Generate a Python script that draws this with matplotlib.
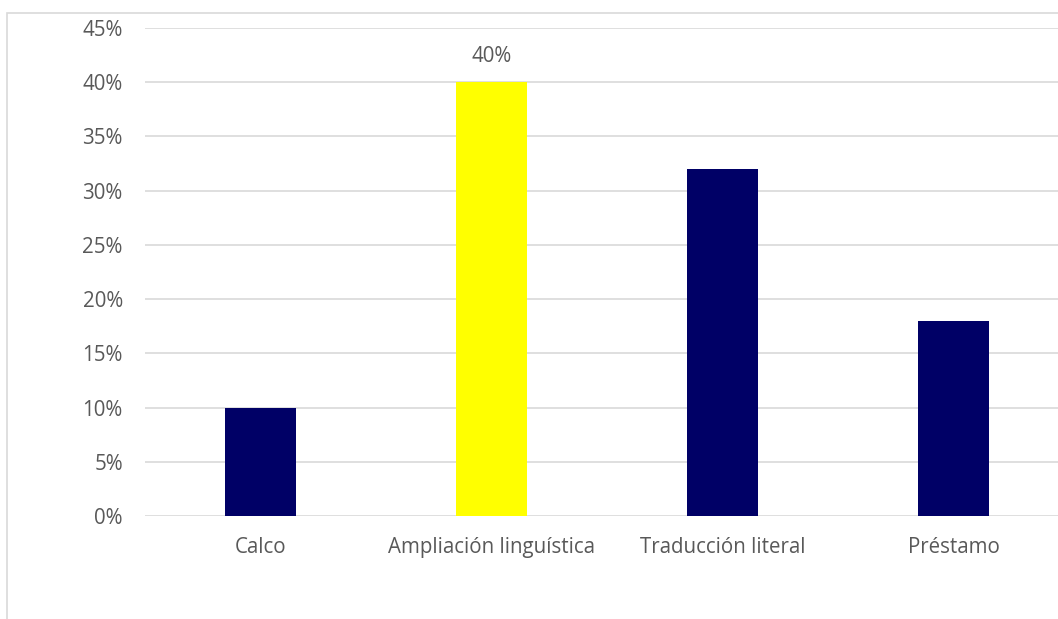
import matplotlib.pyplot as plt
from matplotlib.patches import Rectangle

categorias = ['Calco', 'Ampliación linguística', 'Traducción literal', 'Préstamo']
valores = [0.10, 0.40, 0.32, 0.18]
colores = ['#000066', '#FFFF00', '#000066', '#000066']
ticks = [0, 0.05, 0.10, 0.15, 0.20, 0.25, 0.30, 0.35, 0.40, 0.45]

plt.rcParams['font.family'] = ['Open Sans', 'DejaVu Sans']
gris = '#595959'
tam = 14.8

W, H = 1058, 619
fig = plt.figure(figsize=(W / 100, H / 100), dpi=100)

# borde del grafico
fig.patches.append(Rectangle((7 / W, -0.1), 1.2, 1 - 13 / H + 0.1, transform=fig.transFigure,
                             fill=False, edgecolor='#d9d9d9', linewidth=1.2))

ax = fig.add_axes([145 / W, 1 - 516 / H, 924 / W, (516 - 28) / H])
x = range(len(categorias))
ax.bar(x, valores, width=0.31, color=colores, zorder=3)

ax.set_xlim(-0.5, 3.5)
ax.set_ylim(0, 0.45)
ax.set_yticks(ticks)
ax.set_yticklabels([f'{int(round(t * 100))}%' for t in ticks])
ax.set_xticks(list(x))
ax.set_xticklabels(categorias)
ax.tick_params(axis='both', length=0, labelsize=tam, labelcolor=gris)
ax.tick_params(axis='y', pad=16)
ax.tick_params(axis='x', pad=15)
ax.yaxis.grid(True, color='#d9d9d9', linewidth=1.2, zorder=0)
for s in ax.spines.values():
    s.set_visible(False)

ax.text(1, valores[1] + 0.024, '40%', ha='center', va='center', fontsize=tam, color=gris)

fig.savefig('out.png', dpi=100)
